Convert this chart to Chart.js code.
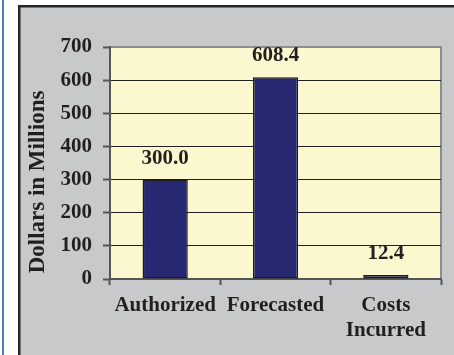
<!DOCTYPE html>
<html>
<head>
<meta charset="utf-8">
<script src="https://cdn.jsdelivr.net/npm/chart.js@4/dist/chart.umd.min.js"></script>
<style>
html,body{margin:0;padding:0;background:#fff;}
#wrap{width:454px;height:355px;position:relative;}
</style>
</head>
<body>
<div id="wrap"><canvas id="c" width="454" height="355"></canvas></div>
<script>
const categories = ["Authorized", "Forecasted", ["Costs", "Incurred"]];
const values = [300.0, 608.4, 12.4];
const valueLabels = ["300.0", "608.4", "12.4"];
const yTicks = [0, 100, 200, 300, 400, 500, 600, 700];
const yTitle = "Dollars in Millions";

const FONT = "'Liberation Serif', 'Times New Roman', serif";
const TEXT = '#231f20';

const framePlugin = {
  id: 'frame',
  beforeDraw(chart) {
    const ctx = chart.ctx;
    const a = chart.chartArea;
    ctx.save();
    ctx.fillStyle = '#ffffff';
    ctx.fillRect(0, 0, chart.width, chart.height);
    ctx.fillStyle = '#4a7ebf';
    ctx.fillRect(2, 0, 2, chart.height);
    ctx.fillStyle = '#262626';
    ctx.fillRect(18, 5, chart.width, chart.height);
    ctx.fillStyle = '#c8c9cb';
    ctx.fillRect(20.5, 7.5, chart.width, chart.height);
    ctx.fillStyle = '#fbf7cf';
    ctx.fillRect(a.left, a.top, a.right - a.left, a.bottom - a.top);
    ctx.strokeStyle = '#8e8e8e';
    ctx.lineWidth = 2;
    ctx.beginPath();
    ctx.moveTo(a.left, a.top);
    ctx.lineTo(a.right, a.top);
    ctx.lineTo(a.right, a.bottom);
    ctx.stroke();
    // y axis title
    ctx.translate(44, 182);
    ctx.rotate(-Math.PI / 2);
    ctx.font = 'bold 23px ' + FONT;
    ctx.fillStyle = TEXT;
    ctx.textAlign = 'center';
    ctx.textBaseline = 'alphabetic';
    ctx.fillText(yTitle, 0, 0);
    ctx.restore();
  }
};

const labelPlugin = {
  id: 'valueLabels',
  afterDatasetsDraw(chart) {
    const ctx = chart.ctx;
    const meta = chart.getDatasetMeta(0);
    ctx.save();
    ctx.font = 'bold 21px ' + FONT;
    ctx.fillStyle = TEXT;
    ctx.textAlign = 'center';
    ctx.textBaseline = 'alphabetic';
    meta.data.forEach((bar, i) => {
      ctx.fillText(valueLabels[i], bar.x, bar.y - 16);
    });
    ctx.restore();
  }
};

new Chart(document.getElementById('c'), {
  type: 'bar',
  data: {
    labels: categories,
    datasets: [{
      data: values,
      backgroundColor: '#262872',
      borderColor: '#1c1c1c',
      borderWidth: 1.5,
      borderSkipped: false,
      categoryPercentage: 1,
      barPercentage: 0.41
    }]
  },
  options: {
    responsive: false,
    animation: false,
    layout: { padding: { left: 0, right: 13, top: 47, bottom: 0 } },
    plugins: { legend: { display: false }, tooltip: { enabled: false } },
    scales: {
      x: {
        grid: { offset: true, drawOnChartArea: false, tickLength: 6, tickColor: '#555', tickWidth: 2 },
        border: { display: true, color: '#555', width: 2 },
        ticks: { color: TEXT, padding: 8, font: { family: FONT, size: 21, weight: 'bold', lineHeight: 1.2 }, maxRotation: 0, autoSkip: false },
        afterFit(s) { s.height = 76; }
      },
      y: {
        min: 0, max: 700,
        afterBuildTicks(s) { s.ticks = yTicks.map(v => ({ value: v })); },
        grid: {
          color: ctx => (ctx.tick && (ctx.tick.value === 0 || ctx.tick.value === 700)) ? 'rgba(0,0,0,0)' : '#222',
          lineWidth: 1,
          tickLength: 7,
          tickColor: '#555',
          tickWidth: 2
        },
        border: { display: true, color: '#555', width: 2 },
        ticks: { color: TEXT, padding: 11, font: { family: FONT, size: 21, weight: 'bold' } },
        title: { display: false },
        afterFit(s) { s.width = 110; }
      }
    }
  },
  plugins: [framePlugin, labelPlugin]
});
</script>
</body>
</html>
